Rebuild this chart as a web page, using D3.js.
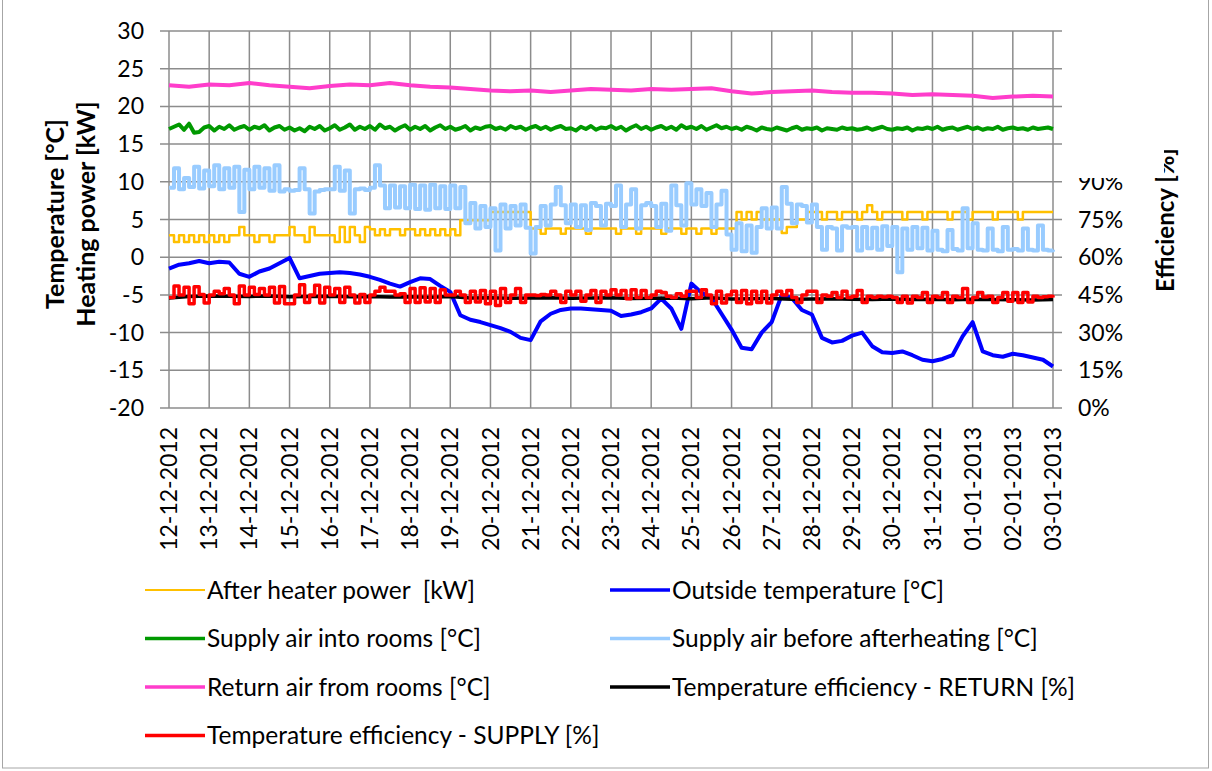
<!DOCTYPE html>
<html>
<head>
<meta charset="utf-8">
<script src="https://cdn.jsdelivr.net/npm/d3@7"></script>
<style>
  body { margin: 0; background: #fff; }
  text { font-family: Lato, "Liberation Sans", sans-serif; fill: #000; }
</style>
</head>
<body>
<svg id="chart" width="1212" height="771"></svg>
<script>
// time axis: one reading every `step` days, starting 12-12-2012
const startDate = new Date(Date.UTC(2012, 11, 12));
const endDate = new Date(Date.UTC(2013, 0, 3));
const leftTicks = [-20, -15, -10, -5, 0, 5, 10, 15, 20, 25, 30];
const rightTicks = [0, 15, 30, 45, 60, 75, 90];

// After heater power [kW], step 0.125 day
const afterHeaterPower = [
  2.9, 2.0, 2.9, 2.0, 2.9, 2.0, 2.9, 2.0,
  2.9, 2.0, 2.9, 2.0, 2.9, 2.9, 4.0, 2.9,
  2.9, 2.0, 2.9, 2.9, 2.0, 2.9, 2.9, 2.9,
  4.0, 2.9, 2.9, 2.0, 4.0, 2.9, 2.9, 2.9,
  2.9, 2.0, 4.0, 2.0, 4.0, 2.9, 2.0, 4.0,
  3.7, 2.9, 3.7, 2.9, 3.7, 3.7, 2.9, 3.7,
  3.7, 2.9, 3.7, 2.9, 3.7, 2.9, 3.7, 2.9,
  3.7, 2.9, 4.9, 4.9, 4.9, 4.9, 4.9, 4.9,
  6.0, 6.0, 6.0, 6.0, 6.0, 6.0, 6.0, 6.0,
  3.8, 3.8, 3.1, 3.8, 3.8, 3.8, 3.1, 3.8,
  3.8, 3.8, 3.8, 3.1, 3.8, 3.8, 3.8, 3.8,
  3.8, 3.1, 3.8, 3.8, 3.8, 3.1, 3.8, 3.8,
  3.8, 3.8, 3.1, 3.8, 3.8, 3.8, 3.1, 3.8,
  3.8, 3.1, 3.8, 3.8, 3.1, 3.8, 3.8, 3.8,
  3.8, 6.0, 5.0, 6.0, 5.0, 6.0, 5.0, 5.0,
  5.0, 5.0, 3.2, 4.0, 4.0, 5.0, 5.0, 6.0,
  6.0, 6.0, 5.0, 6.0, 6.0, 5.0, 6.0, 6.0,
  6.0, 5.0, 6.0, 6.9, 6.0, 5.0, 6.0, 6.0,
  6.0, 6.0, 5.0, 6.0, 6.0, 6.0, 5.0, 6.0,
  6.0, 6.0, 6.0, 5.0, 6.0, 6.0, 6.0, 5.0,
  6.0, 6.0, 6.0, 6.0, 5.0, 6.0, 6.0, 6.0,
  6.0, 5.0, 6.0, 6.0, 6.0, 6.0, 6.0, 6.0,
  6.0
];

// Outside temperature [°C], step 0.25 day
const outsideTemp = [
  -1.5, -1.0, -0.8, -0.5,
  -0.8, -0.6, -0.7, -2.2,
  -2.6, -1.9, -1.5, -0.8,
  -0.1, -2.8, -2.5, -2.2,
  -2.1, -2.0, -2.1, -2.3,
  -2.6, -3.0, -3.5, -3.9,
  -3.3, -2.8, -2.9, -3.8,
  -4.6, -7.7, -8.3, -8.6,
  -9.0, -9.4, -9.9, -10.7,
  -11.0, -8.5, -7.5, -7.0,
  -6.8, -6.8, -6.9, -7.0,
  -7.1, -7.8, -7.6, -7.3,
  -6.8, -5.5, -6.8, -9.5,
  -3.5, -4.7, -5.4, -7.5,
  -9.6, -12.0, -12.2, -10.0,
  -8.6, -5.0, -5.4, -7.0,
  -7.6, -10.7, -11.3, -11.1,
  -10.4, -10.0, -11.8, -12.6,
  -12.7, -12.5, -13.0, -13.6,
  -13.8, -13.5, -13.0, -10.5,
  -8.6, -12.5, -13.0, -13.2,
  -12.8, -13.0, -13.3, -13.6,
  -14.5
];

// Supply air into rooms [°C], step 0.125 day
const supplyIntoRooms = [
  17.0, 17.3, 17.6, 16.9, 17.7, 16.5, 16.6, 17.2,
  17.4, 16.8, 17.3, 17.0, 17.5, 16.9, 17.2, 17.4,
  16.9, 17.3, 17.1, 17.5, 16.8, 17.2, 17.4, 16.9,
  17.2, 16.8, 17.1, 16.7, 17.3, 17.0, 17.4, 16.8,
  17.1, 17.5, 16.9, 17.2, 17.6, 16.9, 17.3, 17.0,
  17.4, 16.9, 17.6, 17.1, 17.3, 16.8, 17.2, 17.5,
  16.9, 17.3, 17.0, 17.4, 16.8, 17.2, 17.5, 17.0,
  17.3, 16.9, 17.1, 17.4, 16.8, 17.2, 17.0, 17.3,
  17.4, 17.0, 17.2, 16.9, 17.4, 17.1, 17.3, 16.9,
  17.2, 17.4, 17.0, 17.3, 16.9, 17.2, 17.4, 17.0,
  17.1, 16.8, 17.3, 17.0, 17.4, 16.9, 17.2, 17.1,
  17.4, 17.0, 17.3, 16.8, 17.2, 17.5, 17.0, 17.3,
  16.9, 17.2, 17.4, 17.0, 17.3, 16.9, 17.5, 17.1,
  17.3, 17.0, 17.4, 16.9, 17.2, 17.5, 17.1, 17.3,
  17.0, 17.2, 16.9, 17.3, 17.1, 16.8, 17.2, 17.0,
  16.9, 17.2, 17.0, 16.8, 17.1, 17.3, 16.9, 17.1,
  17.0, 17.2, 16.8, 17.1, 17.0, 16.9, 17.2, 17.0,
  17.1, 16.9, 17.0, 17.2, 16.9, 17.1, 17.3, 17.0,
  16.9, 17.1, 17.0, 17.2, 16.8, 17.1, 17.0, 17.2,
  17.0, 17.3, 16.9, 17.1, 17.2, 16.9, 17.1, 17.3,
  17.0, 17.2, 16.9, 17.1, 17.0, 17.3, 16.9, 17.1,
  17.2, 17.0, 17.1, 16.9, 17.2, 17.0, 17.1, 17.2,
  17.0
];

// Supply air before afterheating [°C], step 0.125 day
const supplyBeforeHeating = [
  9.2, 11.8, 9.0, 10.5, 9.3, 12.0, 9.1, 11.5,
  9.4, 12.2, 9.0, 11.8, 9.2, 12.0, 6.0, 11.6,
  9.0, 12.0, 9.2, 11.8, 8.8, 12.2, 8.7, 9.0,
  8.8, 8.9, 11.8, 9.0, 5.8, 8.7, 8.9, 9.0,
  9.0, 12.0, 8.8, 11.5, 5.8, 9.0, 9.1, 8.9,
  9.2, 12.2, 9.5, 6.5, 9.5, 6.6, 9.4, 6.5,
  9.6, 6.4, 9.5, 6.3, 9.6, 6.5, 9.4, 6.4,
  9.5, 6.5, 9.3, 4.5, 7.2, 3.8, 6.8, 4.0,
  6.5, 0.9, 7.0, 3.8, 6.8, 4.2, 7.0, 3.9,
  0.5, 4.0, 6.8, 4.2, 7.0, 9.3, 6.9, 4.5,
  7.0, 4.0, 6.9, 3.6, 7.2, 6.8, 4.2, 7.1,
  6.8, 9.5, 4.0, 7.0, 9.0, 3.8, 6.9, 7.2,
  6.8, 4.0, 7.1, 3.5, 9.5, 6.9, 4.2, 9.8,
  7.0, 9.0, 6.8, 8.5, 4.0, 7.0, 8.8, 3.0,
  1.0, 4.5, 0.8, 4.2, 0.6, 4.0, 6.5, 3.8,
  6.6, 3.8, 9.3, 7.1, 4.5, 7.0, 6.8, 4.6,
  7.0, 4.0, 1.0, 4.0, 3.8, 0.9, 4.1, 3.9,
  4.0, 0.9, 4.0, 1.2, 3.9, 1.0, 4.1, 1.5,
  4.0, -2.0, 3.8, 1.0, 4.0, 1.2, 3.9, 0.9,
  3.5, 1.0, 0.8, 3.6, 1.1, 0.9, 6.5, 1.2,
  4.5, 1.0, 0.9, 3.8, 1.0, 0.8, 4.0, 1.0,
  1.1, 0.9, 3.8, 1.0, 0.9, 4.2, 1.0, 0.9,
  1.0
];

// Return air from rooms [°C], step 0.5 day
const returnFromRooms = [
  22.8, 22.6, 22.9, 22.8, 23.1, 22.8, 22.6, 22.4, 22.7, 22.9,
  22.8, 23.1, 22.8, 22.6, 22.5, 22.3, 22.1, 22.0, 22.1, 21.9,
  22.1, 22.3, 22.2, 22.1, 22.3, 22.2, 22.3, 22.4, 22.0, 21.7,
  21.9, 22.0, 22.1, 21.9, 21.8, 21.8, 21.7, 21.5, 21.6, 21.5,
  21.4, 21.1, 21.3, 21.4, 21.3
];

// Temperature efficiency - RETURN [%], step 0.5 day
const effReturn = [
  43.8, 44.4, 44.6, 44.5, 44.4, 44.6, 44.3, 44.4, 44.5, 44.3,
  44.4, 44.2, 44.3, 44.1, 44.4, 43.8, 43.9, 43.7, 43.8, 43.9,
  43.7, 43.8, 43.9, 43.6, 43.7, 43.8, 43.5, 43.9, 43.4, 43.5,
  43.6, 43.3, 43.4, 43.5, 43.3, 43.2, 43.4, 43.2, 43.3, 43.1,
  43.3, 43.2, 43.1, 43.0, 43.2
];

// Temperature efficiency - SUPPLY [%], step 0.125 day
const effSupply = [
  44.0, 48.5, 45.0, 48.0, 41.5, 48.2, 45.2, 41.8,
  45.0, 46.5, 45.5, 47.5, 45.0, 41.5, 48.5, 45.0,
  48.0, 45.2, 47.5, 45.0, 48.0, 41.8, 48.3, 41.5,
  41.5, 45.0, 49.0, 42.0, 45.0, 48.8, 41.8, 48.0,
  45.0, 47.5, 42.0, 48.0, 45.0, 41.8, 45.2, 42.0,
  45.0, 46.5, 48.0, 46.5, 46.5, 45.0, 45.5, 42.0,
  47.5, 42.0, 47.8, 42.2, 47.5, 42.0, 47.0, 45.0,
  45.0, 46.5, 45.0, 42.0, 46.5, 42.2, 46.8, 41.5,
  46.5, 40.8, 47.5, 42.0, 45.0, 47.5, 42.0, 45.0,
  45.0, 44.8, 45.2, 45.0, 46.5, 45.0, 42.0, 46.5,
  45.0, 46.5, 42.5, 45.0, 46.8, 42.0, 46.5, 45.0,
  47.0, 45.0, 46.8, 43.5, 47.0, 44.0, 46.8, 44.0,
  45.0, 46.5, 46.0, 44.5, 44.0, 45.5, 44.5, 46.5,
  46.5, 44.0, 47.0, 45.0, 41.5, 46.5, 41.8, 45.0,
  46.5, 42.0, 46.8, 41.5, 46.5, 42.0, 46.5, 41.8,
  45.0, 46.5, 45.0, 46.8, 44.0, 42.0, 45.0, 46.5,
  46.5, 42.0, 45.0, 44.5, 46.0, 44.0, 46.5, 44.0,
  44.5, 46.8, 42.0, 44.5, 44.0, 44.5, 44.2, 44.5,
  44.0, 42.0, 44.5, 41.8, 44.5, 44.0, 46.0, 42.0,
  44.5, 44.0, 46.0, 42.0, 44.5, 44.0, 47.5, 42.0,
  44.0, 46.0, 44.2, 44.5, 42.0, 44.0, 46.0, 42.5,
  46.0, 42.0, 46.0, 42.2, 44.5, 44.0, 44.3, 44.5,
  44.0
];

const W = 1212, H = 771;
const plot = { left: 169, right: 1053, top: 31, bottom: 408 };
const dayMs = 864e5;

const x = d3.scaleUtc().domain([startDate, endDate]).range([plot.left, plot.right]);
const yLeft = d3.scaleLinear().domain([-20, 30]).range([plot.bottom, plot.top]);
const yRight = d3.scaleLinear().domain([0, 150]).range([plot.bottom, plot.top]);

const series = [
  { name: 'After heater power  [kW]', values: afterHeaterPower, step: 0.125, color: '#FFC000', width: 2.5, y: yLeft, curve: d3.curveStepAfter, legendWidth: 2 },
  { name: 'Outside temperature [°C]', values: outsideTemp, step: 0.25, color: '#0000FF', width: 4, y: yLeft, curve: d3.curveLinear, legendWidth: 3.5 },
  { name: 'Supply air into rooms [°C]', values: supplyIntoRooms, step: 0.125, color: '#009900', width: 4, y: yLeft, curve: d3.curveLinear, legendWidth: 3.5 },
  { name: 'Supply air before afterheating [°C]', values: supplyBeforeHeating, step: 0.125, color: '#99CCFF', width: 4, y: yLeft, curve: d3.curveStepAfter, legendWidth: 3.5 },
  { name: 'Return air from rooms [°C]', values: returnFromRooms, step: 0.5, color: '#FF3DCB', width: 4, y: yLeft, curve: d3.curveLinear, legendWidth: 3.5 },
  { name: 'Temperature efficiency - RETURN [%]', values: effReturn, step: 0.5, color: '#000000', width: 3.5, y: yRight, curve: d3.curveLinear, legendWidth: 3.5 },
  { name: 'Temperature efficiency - SUPPLY [%]', values: effSupply, step: 0.125, color: '#FF0000', width: 3.5, y: yRight, curve: d3.curveStepAfter, legendWidth: 3.5 }
];

const svg = d3.select('svg#chart');

svg.append('rect')
  .attr('x', 2.5).attr('y', -2)
  .attr('width', 1206).attr('height', 770)
  .attr('fill', '#fff').attr('stroke', '#a6a6a6');

// white block that hides the top of the secondary axis
const clip = svg.append('clipPath').attr('id', 'rightClip');
clip.append('rect').attr('x', 0).attr('y', 178).attr('width', W).attr('height', H);
clip.append('rect').attr('x', 1164).attr('y', 0).attr('width', W).attr('height', H);

// gridlines
const days = x.ticks(d3.utcDay.every(1));
const grid = svg.append('g').attr('stroke', '#8c8c8c').attr('stroke-width', 1.5);
grid.selectAll('line.h').data(leftTicks).join('line')
  .attr('class', 'h')
  .attr('x1', plot.left - 9).attr('x2', plot.right + 9)
  .attr('y1', d => yLeft(d)).attr('y2', d => yLeft(d));
grid.selectAll('line.v').data(days).join('line')
  .attr('class', 'v')
  .attr('x1', d => x(d)).attr('x2', d => x(d))
  .attr('y1', plot.top).attr('y2', plot.bottom);

// series
series.forEach(s => {
  const line = d3.line()
    .x((d, i) => x(new Date(startDate.getTime() + i * s.step * dayMs)))
    .y(d => s.y(d))
    .curve(s.curve);
  svg.append('path')
    .datum(s.values)
    .attr('fill', 'none')
    .attr('stroke', s.color)
    .attr('stroke-width', s.width)
    .attr('stroke-linejoin', 'round')
    .attr('d', line);
});

// axis labels
const tickSize = 23;
svg.append('g').selectAll('text').data(leftTicks).join('text')
  .attr('x', 144).attr('y', d => yLeft(d))
  .attr('text-anchor', 'end').attr('dy', '0.35em')
  .style('font-size', tickSize + 'px')
  .text(d => d);

const right = svg.append('g').attr('clip-path', 'url(#rightClip)');
right.selectAll('text').data(rightTicks).join('text')
  .attr('x', 1078).attr('y', d => yRight(d))
  .attr('dy', '0.35em')
  .style('font-size', tickSize + 'px')
  .text(d => d + '%');

right.append('text')
  .attr('transform', 'translate(1166,220) rotate(-90)')
  .attr('text-anchor', 'middle').attr('dy', '0.35em')
  .style('font-size', '24px').style('font-weight', 'bold')
  .text('Efficiency [%]');

const fmt = d3.utcFormat('%d-%m-%Y');
svg.append('g').selectAll('text').data(days).join('text')
  .attr('transform', d => `translate(${x(d)},427) rotate(-90)`)
  .attr('text-anchor', 'end').attr('dy', '0.35em')
  .style('font-size', tickSize + 'px')
  .text(d => fmt(d));

const leftTitle = ['Temperature [°C]', 'Heating power [kW]'];
svg.append('g').selectAll('text').data(leftTitle).join('text')
  .attr('transform', (d, i) => `translate(${55 + i * 31},214) rotate(-90)`)
  .attr('text-anchor', 'middle').attr('dy', '0.35em')
  .style('font-size', '25px').style('font-weight', 'bold')
  .text(d => d);

// legend, two columns
const legend = svg.append('g').selectAll('g').data(series).join('g')
  .attr('transform', (d, i) => `translate(${i % 2 ? 610 : 145},${590 + Math.floor(i / 2) * 48.5})`);
legend.append('line')
  .attr('x1', 0).attr('x2', 60)
  .attr('stroke', d => d.color)
  .attr('stroke-width', d => d.legendWidth);
legend.append('text')
  .attr('x', 62).attr('dy', '0.35em')
  .style('font-size', '24.5px')
  .style('white-space', 'pre')
  .text(d => d.name);
</script>
</body>
</html>
